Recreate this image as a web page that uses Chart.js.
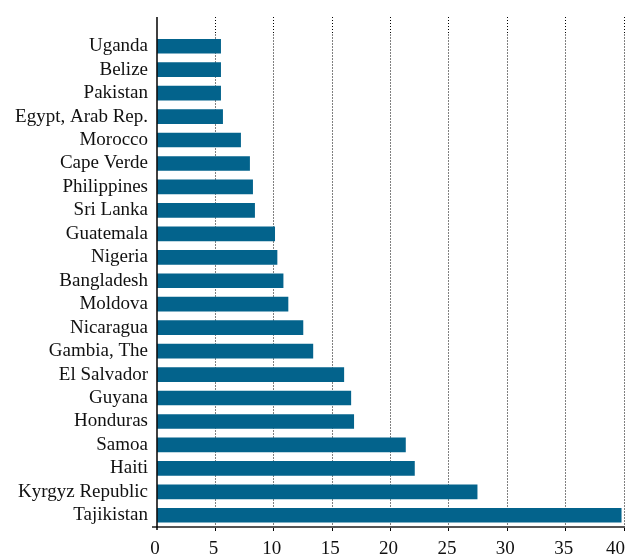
<!DOCTYPE html>
<html>
<head>
<meta charset="utf-8">
<script src="https://cdn.jsdelivr.net/npm/chart.js@4"></script>
<style>
  html, body { margin: 0; padding: 0; background: #fff; }
  #wrap { width: 625px; height: 558px; position: relative; }
</style>
</head>
<body>
<div id="wrap"><canvas id="c" width="625" height="558"></canvas></div>
<script>
const countries = ["Uganda", "Belize", "Pakistan", "Egypt, Arab Rep.", "Morocco", "Cape Verde",
  "Philippines", "Sri Lanka", "Guatemala", "Nigeria", "Bangladesh", "Moldova", "Nicaragua",
  "Gambia, The", "El Salvador", "Guyana", "Honduras", "Samoa", "Haiti", "Kyrgyz Republic", "Tajikistan"];
const values = [5.45, 5.45, 5.45, 5.62, 7.16, 7.93, 8.19, 8.36, 10.08, 10.28, 10.8, 11.22, 12.5,
  13.35, 16.0, 16.6, 16.85, 21.28, 22.05, 27.42, 39.76];
const xTicks = [0, 5, 10, 15, 20, 25, 30, 35, 40];

const FONT = "'Liberation Serif', 'DejaVu Serif', serif";
const GRID_DASH = [1, 2];

const extendPlugin = {
  id: 'extend',
  beforeDraw(chart) {
    const xs = chart.scales.x;
    if (xs.getLabelItems) {
      const items = xs.getLabelItems(chart.chartArea);
      if (items && items.length) {
        const last = items[items.length - 1];
        last.options.textAlign = 'right';
        last.options.translation[0] = chart.width;
      }
    }
  },
  afterDraw(chart) {
    const ctx = chart.ctx;
    const area = chart.chartArea;
    const xs = chart.scales.x;
    const topY = 17;
    ctx.save();
    ctx.strokeStyle = '#000';
    ctx.lineWidth = 1;
    ctx.setLineDash(GRID_DASH);
    xs.ticks.forEach(t => {
      if (t.value === 0) return;
      const px = Math.round(xs.getPixelForValue(t.value) - 0.5) + 0.5;
      ctx.beginPath();
      ctx.moveTo(px, topY);
      ctx.lineTo(px, area.top);
      ctx.stroke();
    });
    ctx.setLineDash([]);
    ctx.strokeStyle = '#555';
    ctx.lineWidth = 2;
    ctx.beginPath();
    ctx.moveTo(area.left - 5, area.bottom);
    ctx.lineTo(area.right + 2, area.bottom);
    ctx.stroke();
    const x0 = xs.getPixelForValue(0);
    ctx.strokeStyle = '#000';
    ctx.lineWidth = 1.5;
    ctx.beginPath();
    ctx.moveTo(x0, topY);
    ctx.lineTo(x0, area.bottom + 3);
    ctx.stroke();
    ctx.restore();
  }
};

new Chart(document.getElementById('c'), {
  type: 'bar',
  data: {
    labels: countries,
    datasets: [{
      data: values,
      backgroundColor: '#03638c',
      borderWidth: 0,
      barThickness: 14
    }]
  },
  options: {
    indexAxis: 'y',
    responsive: false,
    animation: false,
    devicePixelRatio: 1,
    layout: { padding: { top: 34.5, right: 1, left: 0, bottom: 0 } },
    plugins: { legend: { display: false }, tooltip: { enabled: false } },
    scales: {
      x: {
        type: 'linear',
        min: 0, max: 40,
        z: 1,
        afterBuildTicks: (s) => { s.ticks = xTicks.map(v => ({ value: v })); },
        afterFit: (s) => { s.paddingRight = 0; s.paddingLeft = 0; s.height = 31; },
        grid: {
          display: true,
          color: (c) => c.tick && c.tick.value === 0 ? 'rgba(0,0,0,0)' : '#000',
          lineWidth: 1,
          drawTicks: true,
          tickLength: 4
        },
        border: { display: false, dash: GRID_DASH },
        ticks: {
          color: '#111',
          font: { family: FONT, size: 19, lineHeight: 1.0 },
          padding: 9,
          labelOffset: -2,
          maxRotation: 0
        }
      },
      y: {
        type: 'category',
        afterFit: (s) => { s.width = 157; },
        grid: { display: false, drawTicks: false },
        border: { display: false },
        ticks: {
          color: '#111',
          font: { family: FONT, size: 19 },
          padding: 9,
          autoSkip: false
        }
      }
    }
  },
  plugins: [extendPlugin]
});
</script>
</body>
</html>
